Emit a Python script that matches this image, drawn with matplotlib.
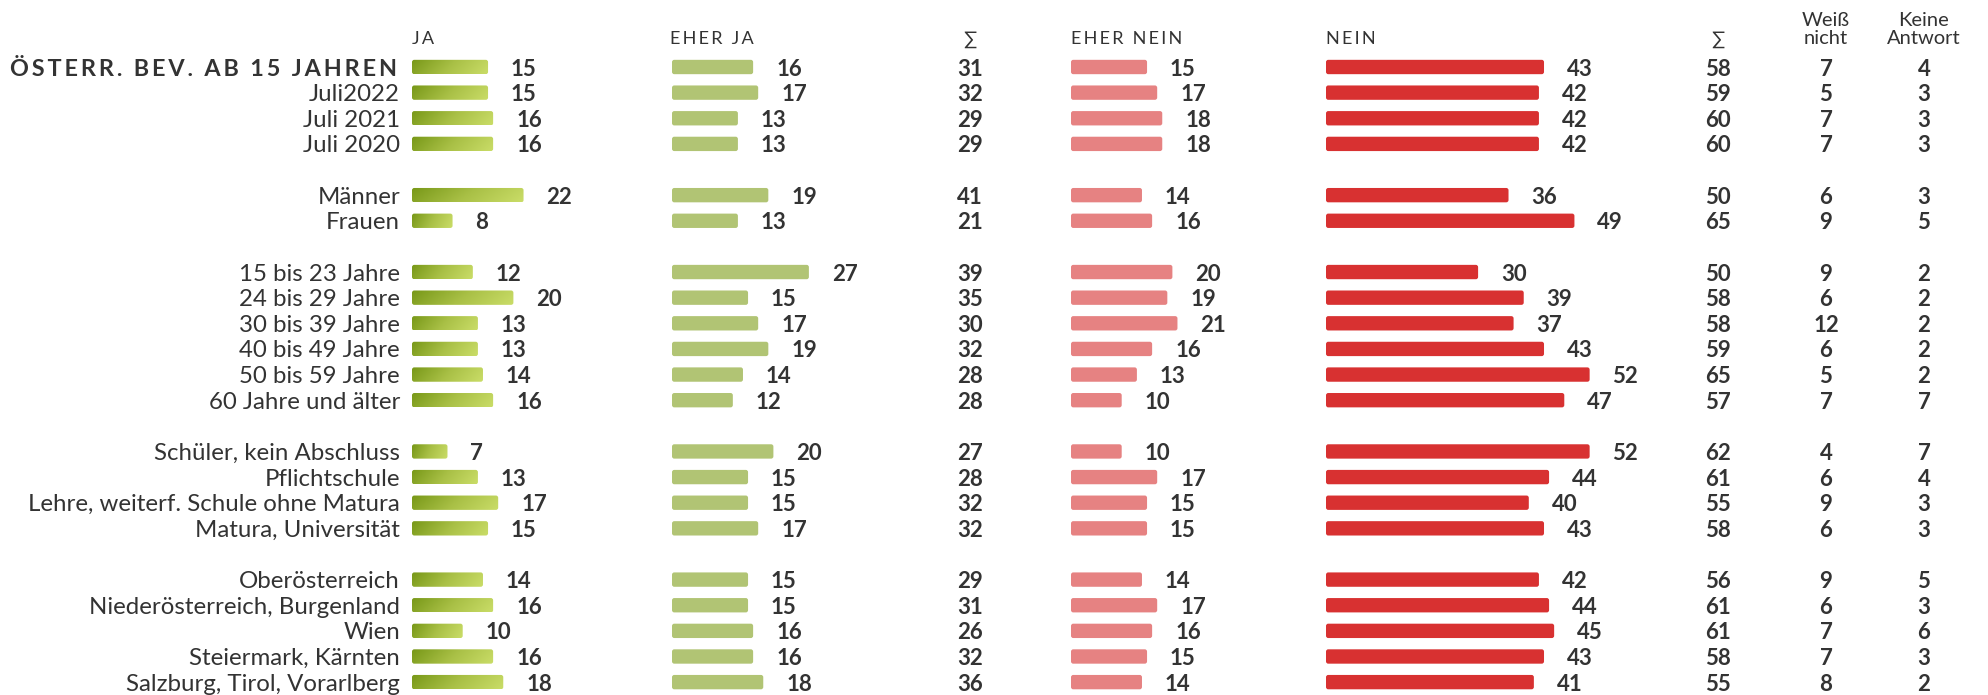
import matplotlib.pyplot as plt
import numpy as np
from matplotlib.colors import LinearSegmentedColormap
from matplotlib.patches import FancyBboxPatch

# Daten (Prozent)
labels = ['ÖSTERR. BEV. AB 15 JAHREN', 'Juli2022', 'Juli 2021', 'Juli 2020',
          'Männer', 'Frauen',
          '15 bis 23 Jahre', '24 bis 29 Jahre', '30 bis 39 Jahre', '40 bis 49 Jahre',
          '50 bis 59 Jahre', '60 Jahre und älter',
          'Schüler, kein Abschluss', 'Pflichtschule', 'Lehre, weiterf. Schule ohne Matura',
          'Matura, Universität',
          'Oberösterreich', 'Niederösterreich, Burgenland', 'Wien', 'Steiermark, Kärnten',
          'Salzburg, Tirol, Vorarlberg']
group_sizes = [4, 2, 6, 4, 5]

ja = [15, 15, 16, 16, 22, 8, 12, 20, 13, 13, 14, 16, 7, 13, 17, 15, 14, 16, 10, 16, 18]
eher_ja = [16, 17, 13, 13, 19, 13, 27, 15, 17, 19, 14, 12, 20, 15, 15, 17, 15, 15, 16, 16, 18]
sum_ja = [31, 32, 29, 29, 41, 21, 39, 35, 30, 32, 28, 28, 27, 28, 32, 32, 29, 31, 26, 32, 36]
eher_nein = [15, 17, 18, 18, 14, 16, 20, 19, 21, 16, 13, 10, 10, 17, 15, 15, 14, 17, 16, 15, 14]
nein = [43, 42, 42, 42, 36, 49, 30, 39, 37, 43, 52, 47, 52, 44, 40, 43, 42, 44, 45, 43, 41]
sum_nein = [58, 59, 60, 60, 50, 65, 50, 58, 58, 59, 65, 57, 62, 61, 55, 58, 56, 61, 61, 58, 55]
weiss_nicht = [7, 5, 7, 7, 6, 9, 9, 6, 12, 6, 5, 7, 4, 6, 9, 6, 9, 6, 7, 7, 8]
keine_antwort = [4, 3, 3, 3, 3, 5, 2, 2, 2, 2, 2, 7, 7, 4, 3, 3, 5, 3, 6, 3, 2]

plt.rcParams['font.family'] = ['Lato', 'DejaVu Sans']
TXT = '#333333'

W, H = 1988, 695
fig = plt.figure(figsize=(W / 100, H / 100), dpi=100)

# Zeilenpositionen mit Leerzeile zwischen den Gruppen
slots = []
s = 0
for g in group_sizes:
    slots.extend(range(s, s + g))
    s += g + 1

row_px = 25.63
top_px = 67
ylim = ((H - top_px) / row_px, -top_px / row_px)

ax = fig.add_axes([0, 0, 1, 1])
ax.set_xlim(0, W)
ax.set_ylim(*ylim)
ax.axis('off')

px_per_unit = 5.07
bar_h = 0.56
ja_cmap = LinearSegmentedColormap.from_list('ja', ['#789818', '#a9c046', '#cadd68'])


def bar_axes(left_px, width_px=300):
    a = fig.add_axes([left_px / W, 0, width_px / W, 1])
    a.set_xlim(0, width_px / px_per_unit)
    a.set_ylim(*ylim)
    a.axis('off')
    return a


def draw_bars(a, values, color=None, gradient=False):
    aspect = px_per_unit / row_px
    for v, y in zip(values, slots):
        p = FancyBboxPatch((0, y - bar_h / 2), v, bar_h,
                           boxstyle='round,pad=0,rounding_size=0.45',
                           mutation_aspect=aspect,
                           facecolor=color if color else 'none', edgecolor='none')
        a.add_patch(p)
        if gradient:
            gx = np.linspace(0, 1, 200)
            gy = np.linspace(0, 1, 20)
            X, Y = np.meshgrid(gx, gy)
            Z = 0.85 * X + 0.15 * Y
            im = a.imshow(Z, cmap=ja_cmap, extent=(0, v, y + bar_h / 2, y - bar_h / 2),
                          aspect='auto', origin='upper', interpolation='bilinear')
            im.set_clip_path(p)
        a.annotate(str(v), (v, y), xytext=(16.5, 0), textcoords='offset points',
                   va='center_baseline', ha='left', fontsize=16, fontweight='bold', color=TXT)
    a.set_xlim(0, a.get_xlim()[1])
    a.set_ylim(*ylim)


ax_ja = bar_axes(412)
draw_bars(ax_ja, ja, gradient=True)
ax_eja = bar_axes(672)
draw_bars(ax_eja, eher_ja, color='#b1c474')
ax_en = bar_axes(1071)
draw_bars(ax_en, eher_nein, color='#e68282')
ax_n = bar_axes(1326)
draw_bars(ax_n, nein, color='#d83131')

# Zeilenbeschriftungen
for i, (lab, y) in enumerate(zip(labels, slots)):
    if i == 0:
        ax.text(397, y, '\u2009'.join(lab), ha='right', va='center_baseline',
                fontsize=16.8, fontweight='bold', color=TXT)
    else:
        ax.text(400, y, lab, ha='right', va='center_baseline', fontsize=17.3, color=TXT)

# Zahlenspalten
for xc, vals in [(970, sum_ja), (1718, sum_nein), (1826, weiss_nicht), (1924, keine_antwort)]:
    for v, y in zip(vals, slots):
        ax.text(xc, y, str(v), ha='center', va='center_baseline',
                fontsize=16, fontweight='bold', color=TXT)

# Kopfzeile
hy = -0.88
for x, t in [(412, 'JA'), (670, 'EHER JA'), (1071, 'EHER NEIN'), (1326, 'NEIN')]:
    ax.text(x, hy, '\u2009'.join(t), ha='left', va='baseline', fontsize=13, color=TXT)
for x in (970, 1718):
    ax.text(x, hy, '∑', ha='center', va='baseline', fontsize=14, color=TXT)
ax.text(1826, hy, 'Weiß\nnicht', ha='center', va='baseline', fontsize=14.5,
        color=TXT, linespacing=1.1)
ax.text(1924, hy, 'Keine\nAntwort', ha='center', va='baseline', fontsize=14.5,
        color=TXT, linespacing=1.1)

fig.savefig('out.png', dpi=100, facecolor='white')
